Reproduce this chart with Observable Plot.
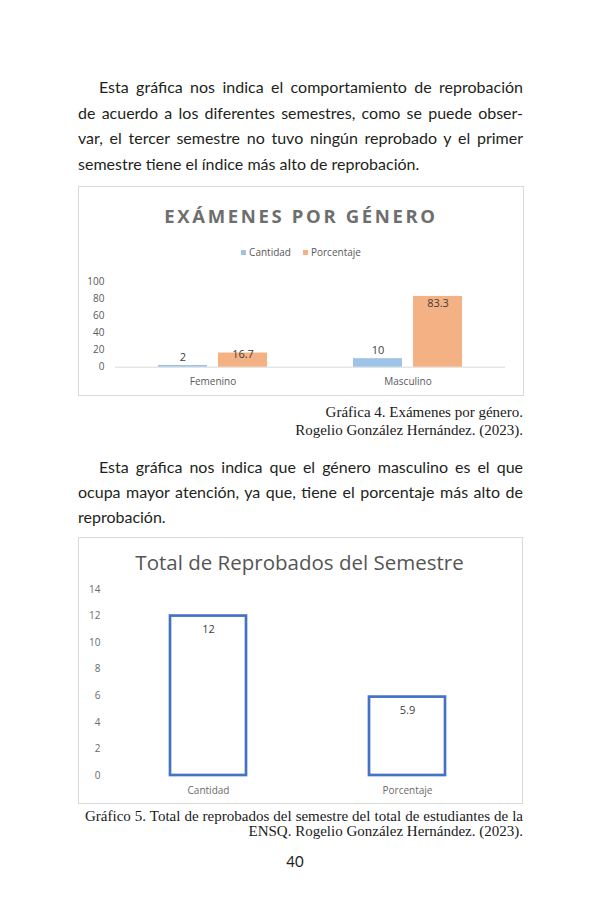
<!DOCTYPE html>
<html><head><meta charset="utf-8">
<script src="https://cdn.jsdelivr.net/npm/d3@7"></script>
<script src="https://cdn.jsdelivr.net/npm/@observablehq/plot@0.6"></script>
<style>
body{margin:0;background:#fff;}
#page{position:relative;width:600px;height:920px;overflow:hidden;background:#fff;}
.abs{position:absolute;}
.line{position:absolute;left:78px;width:445px;white-space:nowrap;text-align:justify;text-align-last:justify;
  font-family:Lato,sans-serif;font-size:16px;color:#231f20;}
.line.last{text-align-last:left;}
.cap{position:absolute;font-family:"Liberation Serif",serif;font-size:15px;color:#1a1a1a;white-space:nowrap;}
.box{position:absolute;border:1px solid #d9d9d9;box-sizing:border-box;}
</style></head>
<body><div id="page">
<div class="line" style="top:74px;height:25.5px;line-height:25.5px;padding-left:21px;width:424px;">Esta gráfica nos indica el comportamiento de reprobación</div>
<div class="line" style="top:99.5px;height:25.5px;line-height:25.5px;">de acuerdo a los diferentes semestres, como se puede obser-</div>
<div class="line" style="top:125px;height:25.5px;line-height:25.5px;">var, el tercer semestre no tuvo ningún reprobado y el primer</div>
<div class="line last" style="top:150.5px;height:25.5px;line-height:25.5px;">semestre tiene el índice más alto de reprobación.</div>

<div class="box" style="left:78px;top:186px;width:446px;height:210px;"></div>
<div class="abs" style="left:78px;width:446px;top:203px;height:26px;line-height:26px;text-align:center;font-family:'Open Sans',sans-serif;font-weight:700;font-size:18.5px;letter-spacing:2.65px;color:#6e6e6e;">EXÁMENES POR GÉNERO</div>
<div id="legend1" class="abs" style="left:78px;width:446px;top:245px;height:15px;line-height:15px;text-align:center;font-family:'Open Sans',sans-serif;font-size:10px;color:#595959;"></div>
<div id="chart1" class="abs" style="left:78px;top:270px;"></div>

<div class="cap" style="right:77px;top:403px;line-height:18.4px;">Gráfica 4. Exámenes por género.</div>
<div class="cap" style="right:77px;top:421.4px;line-height:18.4px;">Rogelio González Hernández. (2023).</div>

<div class="line" style="top:454px;height:25px;line-height:25px;padding-left:21px;width:424px;">Esta gráfica nos indica que el género masculino es el que</div>
<div class="line" style="top:479px;height:25px;line-height:25px;">ocupa mayor atención, ya que, tiene el porcentaje más alto de</div>
<div class="line last" style="top:504px;height:25px;line-height:25px;">reprobación.</div>

<div class="box" style="left:78px;top:537px;width:445px;height:267px;"></div>
<div class="abs" style="left:78px;width:443px;top:546px;height:32px;line-height:32px;text-align:center;font-family:'Open Sans',sans-serif;font-size:20.5px;color:#555555;">Total de Reprobados del Semestre</div>
<div id="chart2" class="abs" style="left:78px;top:578px;"></div>

<div class="cap" style="left:85px;width:438px;top:808.5px;line-height:15.6px;text-align:justify;text-align-last:justify;">Gráfico 5. Total de reprobados del semestre del total de estudiantes de la</div>
<div class="cap" style="right:77px;top:824.1px;line-height:15.6px;">ENSQ. Rogelio González Hernández. (2023).</div>

<div class="abs" style="left:275px;width:40px;top:851px;line-height:20px;text-align:center;font-family:Lato,sans-serif;font-size:15px;color:#231f20;">40</div>
</div>
<script>
// ---- Data: Gráfica 4 ----
const generos = ["Femenino", "Masculino"];
const series1 = ["Cantidad", "Porcentaje"];
const cantidad1 = [2, 10];
const porcentaje1 = [16.7, 83.3];
const yTicks1 = [0, 20, 40, 60, 80, 100];
const colores1 = ["#9dc3e6", "#f4b183"];

// ---- Data: Gráfico 5 ----
const categorias2 = ["Cantidad", "Porcentaje"];
const valores2 = [12, 5.9];
const yTicks2 = [0, 2, 4, 6, 8, 10, 12, 14];

const data1 = generos.flatMap((g, i) => [
  {genero: g, serie: series1[0], valor: cantidad1[i]},
  {genero: g, serie: series1[1], valor: porcentaje1[i]}
]);
const data2 = categorias2.map((c, i) => ({cat: c, val: valores2[i]}));

// legend
const leg = document.getElementById("legend1");
series1.forEach((s, i) => {
  const sw = document.createElement("span");
  sw.style.cssText = `display:inline-block;width:5px;height:5px;background:${colores1[i]};margin:0 3px 1px ${i ? 12 : 0}px;vertical-align:middle;`;
  const t = document.createElement("span");
  t.textContent = s;
  leg.appendChild(sw); leg.appendChild(t);
});

const chart1 = Plot.plot({
  width: 445, height: 125,
  marginTop: 11.7, marginBottom: 28.3, marginLeft: 37, marginRight: 18,
  style: {fontFamily: "'Open Sans', sans-serif", fontSize: "10px", color: "#595959", background: "transparent"},
  fx: {domain: generos, padding: 0, axis: "bottom", tickSize: 0, tickPadding: 11, label: null},
  x: {domain: series1, axis: null, paddingInner: 0.186, paddingOuter: 0.699},
  y: {domain: [0, 100], ticks: yTicks1, tickSize: 0, tickPadding: 11, label: null},
  color: {domain: series1, range: colores1},
  marks: [
    Plot.ruleY([0], {stroke: "#d9d9d9"}),
    Plot.barY(data1, {fx: "genero", x: "serie", y: "valor", fill: "serie"}),
    Plot.text(data1.filter(d => d.serie === "Cantidad"), {fx: "genero", x: "serie", y: "valor", text: d => String(d.valor), dy: -8, fill: "#404040", fontSize: 11}),
    Plot.text(data1.filter(d => d.serie === "Porcentaje"), {fx: "genero", x: "serie", y: d => Math.max(d.valor - 18.5, d.valor * 0.9), text: d => d.valor.toFixed(1), fill: "#404040", fontSize: 11})
  ]
});
document.getElementById("chart1").appendChild(chart1);

const chart2 = Plot.plot({
  width: 445, height: 222,
  marginTop: 11, marginBottom: 25, marginLeft: 30, marginRight: 16,
  style: {fontFamily: "'Open Sans', sans-serif", fontSize: "10px", color: "#6b6b6b", background: "transparent"},
  x: {domain: categorias2, paddingInner: 0.617, paddingOuter: 0.307, tickSize: 0, tickPadding: 11, label: null},
  y: {domain: [0, 14], ticks: yTicks2, tickSize: 0, tickPadding: 8, label: null},
  marks: [
    Plot.barY(data2, {x: "cat", y: "val", fill: "white", stroke: "#4472c4", strokeWidth: 2.7}),
    Plot.text(data2, {x: "cat", y: "val", text: d => String(d.val), dy: 13, fill: "#404040", fontSize: 11})
  ]
});
document.getElementById("chart2").appendChild(chart2);
</script>
</body></html>
